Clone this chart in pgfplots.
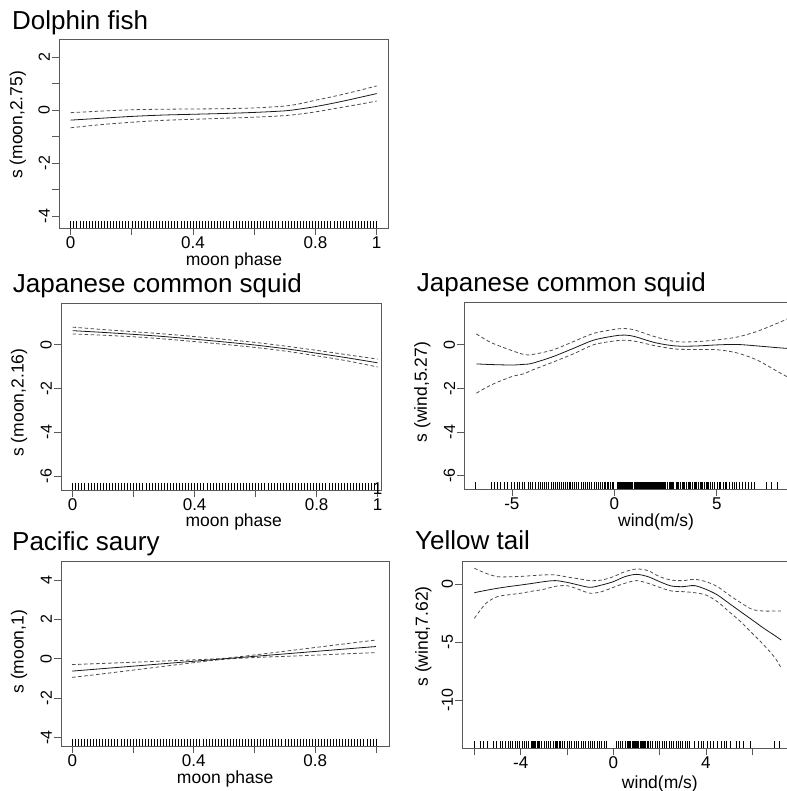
\documentclass[border=0pt]{standalone}
\usepackage{fontspec}
\setmainfont{Liberation Sans}
\usepackage{pgfplots}
\usepackage{pgfplotstable}
\pgfplotsset{compat=1.18}

\pgfplotstableread[row sep=\\]{x r\\ 0 0\\ 0.01 0\\ 0.02 0\\ 0.03 0\\ 0.04 0\\ 0.05 0\\ 0.06 0\\ 0.07 0\\ 0.08 0\\ 0.09 0\\ 0.10 0\\ 0.11 0\\ 0.12 0\\ 0.13 0\\ 0.14 0\\ 0.15 0\\ 0.16 0\\ 0.17 0\\ 0.18 0\\ 0.19 0\\ 0.20 0\\ 0.21 0\\ 0.22 0\\ 0.23 0\\ 0.24 0\\ 0.25 0\\ 0.26 0\\ 0.27 0\\ 0.28 0\\ 0.29 0\\ 0.30 0\\ 0.31 0\\ 0.32 0\\ 0.33 0\\ 0.34 0\\ 0.35 0\\ 0.36 0\\ 0.37 0\\ 0.38 0\\ 0.39 0\\ 0.40 0\\ 0.41 0\\ 0.42 0\\ 0.43 0\\ 0.44 0\\ 0.45 0\\ 0.46 0\\ 0.47 0\\ 0.48 0\\ 0.49 0\\ 0.50 0\\ 0.51 0\\ 0.52 0\\ 0.53 0\\ 0.54 0\\ 0.55 0\\ 0.56 0\\ 0.57 0\\ 0.58 0\\ 0.59 0\\ 0.60 0\\ 0.61 0\\ 0.62 0\\ 0.63 0\\ 0.64 0\\ 0.65 0\\ 0.66 0\\ 0.67 0\\ 0.68 0\\ 0.69 0\\ 0.70 0\\ 0.71 0\\ 0.72 0\\ 0.73 0\\ 0.74 0\\ 0.75 0\\ 0.76 0\\ 0.77 0\\ 0.78 0\\ 0.79 0\\ 0.80 0\\ 0.81 0\\ 0.82 0\\ 0.83 0\\ 0.84 0\\ 0.85 0\\ 0.86 0\\ 0.87 0\\ 0.88 0\\ 0.89 0\\ 0.90 0\\ 0.91 0\\ 0.92 0\\ 0.93 0\\ 0.94 0\\ 0.95 0\\ 0.96 0\\ 0.97 0\\ 0.98 0\\ 0.99 0\\ 1.00 0\\}\moonrug

\pgfplotstableread[row sep=\\]{x r\\ -6.76 0\\ -6.02 0\\ -5.85 0\\ -5.72 0\\ -5.55 0\\ -5.38 0\\ -5.22 0\\ -5.05 0\\ -4.9 0\\ -4.75 0\\ -4.62 0\\ -4.5 0\\ -4.38 0\\ -4.22 0\\ -4.1 0\\ -3.98 0\\ -3.85 0\\ -3.72 0\\ -3.6 0\\ -3.5 0\\ -3.4 0\\ -3.3 0\\ -3.2 0\\ -3.1 0\\ -3.0 0\\ -2.9 0\\ -2.8 0\\ -2.7 0\\ -2.6 0\\ -2.5 0\\ -2.4 0\\ -2.3 0\\ -2.22 0\\ -2.15 0\\ -2.05 0\\ -1.95 0\\ -1.85 0\\ -1.75 0\\ -1.62 0\\ -1.5 0\\ -1.4 0\\ -1.3 0\\ -1.2 0\\ -1.1 0\\ -1.0 0\\ -0.9 0\\ -0.8 0\\ -0.7 0\\ -0.6 0\\ -0.5 0\\ -0.42 0\\ -0.35 0\\ -0.28 0\\ -0.2 0\\ -0.12 0\\ -0.05 0\\ 0.15 0\\ 0.2 0\\ 0.25 0\\ 0.3 0\\ 0.35 0\\ 0.4 0\\ 0.45 0\\ 0.5 0\\ 0.55 0\\ 0.6 0\\ 0.65 0\\ 0.7 0\\ 0.75 0\\ 0.8 0\\ 0.85 0\\ 0.9 0\\ 0.95 0\\ 1.0 0\\ 1.05 0\\ 1.1 0\\ 1.15 0\\ 1.2 0\\ 1.25 0\\ 1.3 0\\ 1.35 0\\ 1.4 0\\ 1.45 0\\ 1.5 0\\ 1.55 0\\ 1.6 0\\ 1.65 0\\ 1.7 0\\ 1.75 0\\ 1.8 0\\ 1.85 0\\ 1.9 0\\ 1.95 0\\ 2.0 0\\ 2.05 0\\ 2.1 0\\ 2.15 0\\ 2.2 0\\ 2.25 0\\ 2.3 0\\ 2.35 0\\ 2.4 0\\ 2.45 0\\ 2.5 0\\ 2.6 0\\ 2.7 0\\ 2.75 0\\ 2.8 0\\ 2.85 0\\ 2.9 0\\ 3.0 0\\ 3.05 0\\ 3.1 0\\ 3.2 0\\ 3.3 0\\ 3.35 0\\ 3.4 0\\ 3.5 0\\ 3.6 0\\ 3.65 0\\ 3.7 0\\ 3.8 0\\ 3.9 0\\ 3.95 0\\ 4.0 0\\ 4.1 0\\ 4.2 0\\ 4.25 0\\ 4.3 0\\ 4.4 0\\ 4.5 0\\ 4.55 0\\ 4.6 0\\ 4.7 0\\ 4.8 0\\ 4.9 0\\ 5.0 0\\ 5.1 0\\ 5.15 0\\ 5.3 0\\ 5.4 0\\ 5.45 0\\ 5.6 0\\ 5.75 0\\ 5.85 0\\ 5.95 0\\ 6.1 0\\ 6.25 0\\ 6.4 0\\ 6.55 0\\ 6.7 0\\ 6.85 0\\ 7.4 0\\ 7.65 0\\ 7.95 0\\}\windrugA

\pgfplotstableread[row sep=\\]{x r\\ -6.0 0\\ -5.75 0\\ -5.6 0\\ -5.42 0\\ -5.2 0\\ -5.05 0\\ -4.9 0\\ -4.78 0\\ -4.65 0\\ -4.55 0\\ -4.45 0\\ -4.35 0\\ -4.25 0\\ -4.15 0\\ -4.05 0\\ -3.95 0\\ -3.85 0\\ -3.75 0\\ -3.65 0\\ -3.55 0\\ -3.5 0\\ -3.45 0\\ -3.4 0\\ -3.35 0\\ -3.3 0\\ -3.25 0\\ -3.2 0\\ -3.1 0\\ -3.0 0\\ -2.9 0\\ -2.8 0\\ -2.7 0\\ -2.6 0\\ -2.5 0\\ -2.45 0\\ -2.4 0\\ -2.35 0\\ -2.3 0\\ -2.2 0\\ -2.1 0\\ -2.0 0\\ -1.9 0\\ -1.8 0\\ -1.7 0\\ -1.6 0\\ -1.5 0\\ -1.4 0\\ -1.3 0\\ -1.2 0\\ -1.1 0\\ -1.0 0\\ -0.9 0\\ -0.8 0\\ -0.7 0\\ -0.6 0\\ -0.5 0\\ -0.4 0\\ -0.3 0\\ 0.12 0\\ 0.2 0\\ 0.3 0\\ 0.4 0\\ 0.5 0\\ 0.6 0\\ 0.65 0\\ 0.7 0\\ 0.75 0\\ 0.8 0\\ 0.85 0\\ 0.9 0\\ 0.95 0\\ 1.0 0\\ 1.05 0\\ 1.1 0\\ 1.15 0\\ 1.2 0\\ 1.25 0\\ 1.3 0\\ 1.35 0\\ 1.4 0\\ 1.45 0\\ 1.5 0\\ 1.6 0\\ 1.7 0\\ 1.8 0\\ 1.9 0\\ 2.0 0\\ 2.1 0\\ 2.2 0\\ 2.3 0\\ 2.4 0\\ 2.5 0\\ 2.6 0\\ 2.7 0\\ 2.8 0\\ 2.9 0\\ 3.0 0\\ 3.1 0\\ 3.2 0\\ 3.3 0\\ 3.5 0\\ 3.65 0\\ 3.8 0\\ 3.9 0\\ 4.05 0\\ 4.2 0\\ 4.3 0\\ 4.5 0\\ 4.65 0\\ 4.8 0\\ 4.9 0\\ 5.05 0\\ 5.3 0\\ 5.45 0\\ 5.6 0\\ 5.9 0\\ 6.95 0\\ 7.15 0\\}\windrugB

\pgfplotstableread{
x fit up lo
0 -0.38 -0.10 -0.67
0.1 -0.31 -0.04 -0.55
0.2 -0.24 0.01 -0.46
0.3 -0.19 0.03 -0.39
0.4 -0.16 0.04 -0.35
0.5 -0.13 0.05 -0.31
0.6 -0.09 0.08 -0.27
0.7 -0.03 0.15 -0.21
0.75 0.04 0.24 -0.15
0.8 0.13 0.37 -0.07
0.85 0.24 0.49 0.03
0.9 0.36 0.62 0.13
0.95 0.49 0.76 0.23
1.0 0.62 0.91 0.34
}\pone

\pgfplotstableread{
x fit up lo
0 0.64 0.80 0.49
0.1 0.56 0.69 0.43
0.2 0.47 0.59 0.36
0.3 0.37 0.49 0.26
0.4 0.25 0.37 0.14
0.5 0.12 0.24 0.01
0.6 -0.02 0.10 -0.13
0.7 -0.19 -0.07 -0.30
0.8 -0.39 -0.26 -0.51
0.9 -0.60 -0.46 -0.74
1.0 -0.83 -0.66 -1.02
}\ptwo

\pgfplotstableread{
x fit up lo
-6.73 -0.88 0.49 -2.22
-6 -0.91 0.09 -1.84
-5 -0.93 -0.27 -1.46
-4.4 -0.90 -0.45 -1.33
-4 -0.85 -0.45 -1.16
-3 -0.55 -0.24 -0.80
-2 -0.17 0.14 -0.42
-1 0.21 0.52 0.00
0 0.40 0.70 0.17
0.5 0.44 0.74 0.20
1 0.37 0.67 0.16
2 0.09 0.36 -0.05
3 -0.06 0.14 -0.20
4 -0.06 0.14 -0.22
5 -0.01 0.22 -0.23
6 0.01 0.35 -0.38
7 -0.06 0.62 -0.72
8 -0.14 1.00 -1.25
8.6 -0.18 1.25 -1.55
}\pthree

\pgfplotstableread{
x fit up lo
0 -0.63 -0.30 -0.95
0.1 -0.505 -0.24 -0.77
0.2 -0.38 -0.18 -0.58
0.3 -0.255 -0.12 -0.39
0.4 -0.13 -0.06 -0.20
0.5 -0.005 0.02 -0.03
0.6 0.12 0.19 0.06
0.7 0.245 0.38 0.12
0.8 0.37 0.57 0.18
0.9 0.495 0.76 0.25
1.0 0.62 0.95 0.31
}\pfour

\pgfplotstableread{
x fit up lo
-6 -0.75 1.35 -2.96
-5.5 -0.55 0.92 -1.67
-5 -0.37 0.63 -1.09
-4.5 -0.22 0.62 -0.93
-4 -0.09 0.65 -0.80
-3.5 0.05 0.72 -0.62
-3 0.20 0.78 -0.46
-2.5 0.29 0.78 -0.20
-2 0.14 0.60 -0.15
-1.5 -0.09 0.45 -0.46
-1 -0.29 0.29 -0.80
-0.5 -0.09 0.34 -0.66
0 0.20 0.63 -0.29
0.5 0.63 1.06 0.06
1 0.83 1.29 0.29
1.5 0.63 1.15 0.06
2 0.20 0.63 -0.29
2.5 -0.17 0.34 -0.60
3 -0.23 0.29 -0.66
3.5 -0.14 0.40 -0.75
4 -0.46 0.20 -0.95
4.5 -0.95 -0.23 -1.53
5 -1.67 -0.95 -2.39
5.5 -2.39 -1.61 -3.25
6 -3.10 -2.19 -4.25
6.5 -3.82 -2.33 -5.26
7 -4.48 -2.33 -6.41
7.25 -4.83 -2.33 -7.27
}\pfive

\pgfplotsset{
  gam/.style={
    scale only axis, anchor=south west,
    axis line style={black!65, line width=0.7bp},
    every tick/.style={black!65, line width=0.7bp},
    tick align=outside,
    major tick length=7bp,
    xtick pos=bottom, ytick pos=left,
    xticklabel style={font=\fontsize{17bp}{19bp}\selectfont, text=black, inner sep=1.5bp},
    yticklabel style={font=\fontsize{16bp}{18bp}\selectfont, text=black, rotate=90, anchor=south, inner sep=2bp},
    label style={font=\fontsize{17.5bp}{20bp}\selectfont, text=black, inner sep=1bp},
    ylabel style={anchor=center},
    xlabel style={anchor=base},
    scaled ticks=false,
  },
  fit/.style={black!90, line width=0.8bp, smooth},
  band/.style={black!70, line width=0.8bp, smooth, dash pattern=on 3.5bp off 2.5bp},
  rug/.style={only marks, mark=|, mark size=3.5bp, mark options={yshift=3.5bp, line width=0.6bp, black}},
}

\begin{document}
\begin{tikzpicture}
\useasboundingbox (0,0) rectangle (787bp,791bp);

% Panel 1: Dolphin fish
\begin{axis}[gam, at={(59bp,563bp)}, width=329bp, height=189bp,
  xmin=-0.038, xmax=1.037, ymin=-4.45, ymax=2.68,
  xtick={0,0.2,0.4,0.6,0.8,1}, xticklabels={0,,0.4,,0.8,1},
  ytick={-4,-3,-2,-1,0,1,2}, yticklabels={-4,,-2,,0,,2},
  xlabel={moon phase}, ylabel={s (moon,2.75)},
  xlabel style={at={(axis description cs:0.532,-0.196)}},
  ylabel style={at={(axis description cs:-0.125,0.545)}}]
\addplot[rug] table[x=x, y expr=-4.45] {\moonrug};
\addplot[band] table[x=x, y=up] {\pone};
\addplot[band] table[x=x, y=lo] {\pone};
\addplot[fit] table[x=x, y=fit] {\pone};
\end{axis}

% Panel 2: Japanese common squid, moon
\begin{axis}[gam, at={(61bp,301bp)}, width=320bp, height=186.7bp,
  xmin=-0.038, xmax=1.011, ymin=-6.64, ymax=1.89,
  xtick={0,0.2,0.4,0.6,0.8,1}, xticklabels={0,,0.4,,0.8,1},
  extra x ticks={1}, extra x tick labels={1},
  extra x tick style={major tick length=0pt, xticklabel style={yshift=9bp}},
  ytick={-6,-4,-2,0},
  yticklabels={-6,-4,-2,0},
  xlabel={moon phase}, ylabel={s (moon,2.16)},
  xlabel style={at={(axis description cs:0.54,-0.196)}},
  ylabel style={at={(axis description cs:-0.131,0.468)}}]
\addplot[rug] table[x=x, y expr=-6.64] {\moonrug};
\addplot[band] table[x=x, y=up] {\ptwo};
\addplot[band] table[x=x, y=lo] {\ptwo};
\addplot[fit] table[x=x, y=fit] {\ptwo};
\end{axis}

% Panel 3: Japanese common squid, wind
\begin{axis}[gam, at={(464.3bp,301.7bp)}, width=325.7bp, height=187bp,
  xmin=-7.32, xmax=8.57, ymin=-6.62, ymax=1.94,
  xtick={-5,0,5}, xticklabels={-5,0,5},
  ytick={-6,-4,-2,0}, yticklabels={-6,-4,-2,0},
  xlabel={wind(m/s)}, ylabel={s (wind,5.27)},
  xlabel style={at={(axis description cs:0.589,-0.2)}},
  ylabel style={at={(axis description cs:-0.129,0.52)}}]
\addplot[rug] table[x=x, y expr=-6.62] {\windrugA};
\addplot[band] table[x=x, y=up] {\pthree};
\addplot[band] table[x=x, y=lo] {\pthree};
\addplot[fit] table[x=x, y=fit] {\pthree};
\end{axis}

% Panel 4: Pacific saury
\begin{axis}[gam, at={(61bp,45bp)}, width=328.3bp, height=185bp,
  xmin=-0.037, xmax=1.044, ymin=-4.44, ymax=4.97,
  xtick={0,0.2,0.4,0.6,0.8,1}, xticklabels={0,,0.4,,0.8,},
  ytick={-4,-2,0,2,4}, yticklabels={-4,-2,0,2,4},
  xlabel={moon phase}, ylabel={s (moon,1)},
  xlabel style={at={(axis description cs:0.5,-0.2)}},
  ylabel style={at={(axis description cs:-0.128,0.51)}}]
\addplot[rug] table[x=x, y expr=-4.44] {\moonrug};
\addplot[band] table[x=x, y=up] {\pfour};
\addplot[band] table[x=x, y=lo] {\pfour};
\addplot[fit] table[x=x, y=fit] {\pfour};
\end{axis}

% Panel 5: Yellow tail
\begin{axis}[gam, at={(462.3bp,42.7bp)}, width=327.7bp, height=186.6bp,
  xmin=-6.52, xmax=7.63, ymin=-14.16, ymax=1.92,
  xtick={-6,-4,-2,0,2,4,6}, xticklabels={,-4,,0,,4,},
  ytick={-10,-5,0}, yticklabels={-10,-5,0},
  xlabel={wind(m/s)}, ylabel={s (wind,7.62)},
  xlabel style={at={(axis description cs:0.603,-0.214)}},
  ylabel style={at={(axis description cs:-0.119,0.60)}}]
\addplot[rug] table[x=x, y expr=-14.16] {\windrugB};
\addplot[band] table[x=x, y=up] {\pfive};
\addplot[band] table[x=x, y=lo] {\pfive};
\addplot[fit] table[x=x, y=fit] {\pfive};
\end{axis}

\node[anchor=base west, inner sep=0pt, font=\fontsize{26bp}{30bp}\selectfont] at (12bp,761bp) {Dolphin fish};
\node[anchor=base west, inner sep=0pt, font=\fontsize{26bp}{30bp}\selectfont] at (12.7bp,498bp) {Japanese common squid};
\node[anchor=base west, inner sep=0pt, font=\fontsize{26bp}{30bp}\selectfont] at (416.7bp,499bp) {Japanese common squid};
\node[anchor=base west, inner sep=0pt, font=\fontsize{26bp}{30bp}\selectfont] at (12bp,240bp) {Pacific saury};
\node[anchor=base west, inner sep=0pt, font=\fontsize{26bp}{30bp}\selectfont] at (415bp,241bp) {Yellow tail};
\end{tikzpicture}
\end{document}
